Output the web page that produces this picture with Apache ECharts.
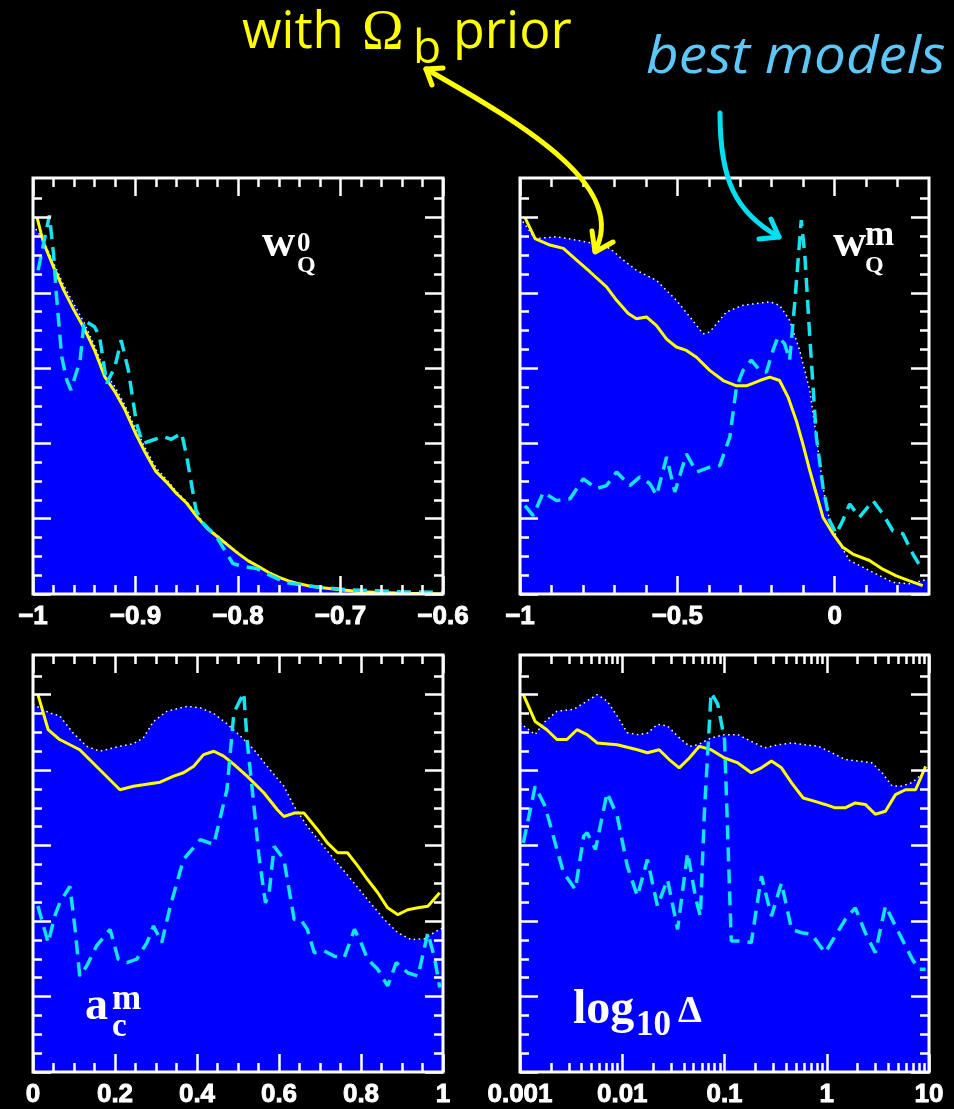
<!DOCTYPE html>
<html><head><meta charset="utf-8">
<script src="https://cdn.jsdelivr.net/npm/echarts@6/dist/echarts.min.js"></script>
<style>html,body{margin:0;padding:0;background:#000;}#c{width:954px;height:1109px;}</style>
</head><body><div id="c"></div>
<script>
// ---------------- data (normalised probability, y) ----------------
// Panel 1: w_Q^0
const tlBand = [[-1.0,0.98],[-0.99,0.94],[-0.98,0.88],[-0.97,0.82],[-0.96,0.77],[-0.95,0.72],[-0.94,0.66],[-0.93,0.59],[-0.92,0.55],[-0.91,0.50],[-0.90,0.44],[-0.89,0.385],[-0.88,0.335],[-0.87,0.305],[-0.86,0.272],[-0.85,0.245],[-0.84,0.21],[-0.83,0.178],[-0.82,0.155],[-0.81,0.132],[-0.80,0.11],[-0.79,0.09],[-0.78,0.074],[-0.77,0.058],[-0.76,0.045],[-0.75,0.035],[-0.74,0.027],[-0.73,0.021],[-0.72,0.017],[-0.70,0.011],[-0.68,0.007],[-0.66,0.004],[-0.64,0.002],[-0.62,0.001],[-0.60,0.0]];
const tlPrior = [[-0.996,1.0],[-0.99,0.935],[-0.98,0.869],[-0.97,0.807],[-0.96,0.754],[-0.95,0.705],[-0.94,0.648],[-0.93,0.577],[-0.92,0.537],[-0.91,0.488],[-0.90,0.427],[-0.89,0.373],[-0.88,0.325],[-0.87,0.298],[-0.86,0.267],[-0.85,0.241],[-0.84,0.205],[-0.83,0.174],[-0.82,0.152],[-0.81,0.130],[-0.80,0.108],[-0.79,0.088],[-0.78,0.073],[-0.77,0.057],[-0.76,0.044],[-0.75,0.034],[-0.74,0.027],[-0.73,0.021],[-0.72,0.017],[-0.70,0.011],[-0.68,0.006],[-0.66,0.004],[-0.64,0.002],[-0.62,0.001],[-0.60,0.0]];
const tlBest = [[-0.995,0.86],[-0.987,0.966],[-0.984,1.006],[-0.980,0.904],[-0.977,0.789],[-0.972,0.63],[-0.967,0.568],[-0.963,0.542],[-0.954,0.621],[-0.950,0.727],[-0.940,0.71],[-0.935,0.683],[-0.928,0.559],[-0.920,0.604],[-0.914,0.674],[-0.907,0.595],[-0.899,0.453],[-0.893,0.40],[-0.883,0.409],[-0.873,0.418],[-0.865,0.411],[-0.855,0.427],[-0.850,0.365],[-0.841,0.223],[-0.834,0.188],[-0.821,0.152],[-0.805,0.081],[-0.795,0.073],[-0.782,0.068],[-0.769,0.05],[-0.753,0.03],[-0.724,0.019],[-0.691,0.011],[-0.642,0.006],[-0.60,0.004]];
// Panel 2: w_Q^m
const trBand = [[-1.0,1.0],[-0.952,0.944],[-0.884,0.949],[-0.820,0.94],[-0.778,0.933],[-0.714,0.918],[-0.672,0.887],[-0.630,0.86],[-0.566,0.833],[-0.503,0.78],[-0.460,0.736],[-0.418,0.691],[-0.397,0.696],[-0.344,0.749],[-0.291,0.767],[-0.206,0.776],[-0.175,0.767],[-0.143,0.727],[-0.111,0.647],[-0.079,0.541],[-0.058,0.417],[-0.037,0.284],[-0.016,0.195],[0.016,0.133],[0.048,0.089],[0.111,0.062],[0.185,0.031],[0.238,0.027],[0.30,0.04]];
const trPrior = [[-0.984,1.0],[-0.952,0.944],[-0.905,0.927],[-0.862,0.918],[-0.820,0.887],[-0.778,0.856],[-0.725,0.816],[-0.693,0.78],[-0.656,0.745],[-0.630,0.731],[-0.598,0.736],[-0.566,0.713],[-0.534,0.677],[-0.503,0.656],[-0.471,0.647],[-0.439,0.629],[-0.397,0.594],[-0.354,0.567],[-0.312,0.553],[-0.280,0.553],[-0.238,0.567],[-0.206,0.576],[-0.175,0.567],[-0.148,0.523],[-0.122,0.461],[-0.101,0.399],[-0.079,0.328],[-0.058,0.266],[-0.037,0.204],[-0.005,0.16],[0.026,0.124],[0.058,0.106],[0.111,0.089],[0.153,0.066],[0.196,0.048],[0.238,0.035],[0.28,0.022]];
const trBest = [[-0.984,0.235],[-0.958,0.208],[-0.926,0.27],[-0.884,0.248],[-0.841,0.253],[-0.799,0.306],[-0.757,0.28],[-0.725,0.288],[-0.693,0.324],[-0.651,0.288],[-0.619,0.311],[-0.587,0.293],[-0.566,0.262],[-0.534,0.364],[-0.508,0.271],[-0.471,0.372],[-0.439,0.324],[-0.397,0.337],[-0.365,0.341],[-0.333,0.417],[-0.312,0.55],[-0.291,0.594],[-0.265,0.621],[-0.238,0.594],[-0.217,0.589],[-0.196,0.647],[-0.180,0.683],[-0.159,0.665],[-0.143,0.621],[-0.127,0.771],[-0.106,0.993],[-0.095,0.904],[-0.079,0.683],[-0.058,0.417],[-0.037,0.284],[-0.016,0.195],[0.005,0.16],[0.026,0.195],[0.048,0.239],[0.079,0.204],[0.122,0.248],[0.153,0.213],[0.185,0.168],[0.217,0.16],[0.249,0.106],[0.28,0.062]];
// Panel 3: a_c^m
const blBand = [[0.0,0.974],[0.041,0.951],[0.065,0.944],[0.098,0.898],[0.131,0.863],[0.163,0.85],[0.204,0.861],[0.245,0.87],[0.269,0.885],[0.294,0.929],[0.327,0.956],[0.376,0.969],[0.408,0.965],[0.441,0.95],[0.473,0.923],[0.506,0.89],[0.539,0.854],[0.571,0.81],[0.612,0.757],[0.637,0.704],[0.669,0.651],[0.702,0.607],[0.735,0.563],[0.776,0.51],[0.816,0.457],[0.857,0.404],[0.890,0.369],[0.922,0.351],[0.955,0.353],[0.980,0.371],[1.0,0.382]];
const blPrior = [[0.012,1.0],[0.037,0.907],[0.065,0.881],[0.114,0.854],[0.163,0.801],[0.212,0.748],[0.245,0.757],[0.269,0.761],[0.310,0.768],[0.343,0.784],[0.367,0.793],[0.392,0.81],[0.416,0.841],[0.441,0.85],[0.465,0.837],[0.490,0.815],[0.522,0.784],[0.563,0.74],[0.596,0.695],[0.612,0.677],[0.637,0.686],[0.661,0.686],[0.694,0.642],[0.718,0.607],[0.743,0.581],[0.767,0.581],[0.792,0.546],[0.816,0.51],[0.841,0.475],[0.865,0.435],[0.890,0.417],[0.914,0.43],[0.939,0.435],[0.963,0.439],[0.992,0.475]];
const blBest = [[0.012,0.44],[0.037,0.342],[0.053,0.413],[0.065,0.448],[0.090,0.492],[0.102,0.385],[0.114,0.254],[0.131,0.281],[0.155,0.334],[0.188,0.378],[0.208,0.299],[0.229,0.29],[0.253,0.299],[0.278,0.343],[0.294,0.387],[0.314,0.343],[0.335,0.44],[0.367,0.563],[0.408,0.616],[0.441,0.603],[0.473,0.748],[0.490,0.952],[0.514,1.005],[0.522,0.881],[0.539,0.704],[0.551,0.573],[0.567,0.448],[0.576,0.475],[0.588,0.598],[0.612,0.563],[0.637,0.404],[0.653,0.404],[0.669,0.378],[0.686,0.316],[0.710,0.321],[0.735,0.307],[0.759,0.303],[0.784,0.378],[0.800,0.343],[0.816,0.299],[0.841,0.272],[0.865,0.228],[0.886,0.29],[0.914,0.263],[0.939,0.254],[0.963,0.369],[0.980,0.299],[0.992,0.224]];
// Panel 4: log10(Delta)  (x stored as log10 of Delta)
const brBand = [[-3.0,0.925],[-2.852,0.894],[-2.770,0.925],[-2.639,0.956],[-2.475,0.961],[-2.344,0.983],[-2.246,1.0],[-2.148,0.983],[-2.049,0.943],[-1.951,0.899],[-1.852,0.894],[-1.754,0.898],[-1.656,0.921],[-1.557,0.917],[-1.459,0.89],[-1.344,0.863],[-1.262,0.867],[-1.131,0.885],[-1.0,0.894],[-0.869,0.894],[-0.738,0.876],[-0.607,0.859],[-0.475,0.867],[-0.344,0.872],[-0.213,0.867],[-0.082,0.863],[0.049,0.846],[0.180,0.828],[0.311,0.824],[0.443,0.819],[0.541,0.793],[0.639,0.758],[0.738,0.758],[0.836,0.767],[0.967,0.798],[1.0,0.798]];
const brPrior = [[-2.967,1.0],[-2.852,0.929],[-2.738,0.907],[-2.639,0.881],[-2.541,0.881],[-2.443,0.907],[-2.344,0.894],[-2.246,0.872],[-2.049,0.867],[-1.852,0.854],[-1.754,0.846],[-1.639,0.854],[-1.541,0.828],[-1.443,0.806],[-1.344,0.832],[-1.246,0.863],[-1.131,0.854],[-1.0,0.832],[-0.869,0.819],[-0.738,0.793],[-0.639,0.806],[-0.541,0.824],[-0.443,0.806],[-0.344,0.766],[-0.230,0.726],[-0.115,0.717],[-0.016,0.709],[0.082,0.70],[0.180,0.70],[0.279,0.713],[0.377,0.709],[0.475,0.683],[0.574,0.691],[0.672,0.735],[0.770,0.748],[0.869,0.748],[0.967,0.81]];
const brBest = [[-2.967,0.607],[-2.852,0.757],[-2.754,0.704],[-2.639,0.59],[-2.574,0.528],[-2.459,0.484],[-2.377,0.625],[-2.344,0.634],[-2.262,0.59],[-2.148,0.74],[-2.049,0.678],[-1.951,0.546],[-1.852,0.466],[-1.754,0.563],[-1.656,0.44],[-1.557,0.51],[-1.459,0.378],[-1.361,0.581],[-1.279,0.457],[-1.236,0.413],[-1.197,0.687],[-1.131,1.005],[-1.066,0.975],[-1.0,0.881],[-0.967,0.616],[-0.934,0.347],[-0.836,0.347],[-0.738,0.343],[-0.639,0.519],[-0.541,0.413],[-0.443,0.501],[-0.344,0.378],[-0.246,0.369],[-0.148,0.365],[-0.016,0.316],[0.082,0.36],[0.180,0.404],[0.279,0.435],[0.377,0.369],[0.475,0.316],[0.574,0.44],[0.705,0.369],[0.836,0.299],[0.902,0.272],[0.967,0.272]];

// ---------------- ticks / labels ----------------
const yMajor = [0, 0.2, 0.4, 0.6, 0.8, 1.0];
const yMinor = [0.05,0.1,0.15,0.25,0.3,0.35,0.45,0.5,0.55,0.65,0.7,0.75,0.85,0.9,0.95,1.05];
const tlXMajor = [-1, -0.9, -0.8, -0.7, -0.6];
const tlXLabels = ['\u22121', '\u22120.9', '\u22120.8', '\u22120.7', '\u22120.6'];
const tlXMinor = [-0.98,-0.96,-0.94,-0.92,-0.88,-0.86,-0.84,-0.82,-0.78,-0.76,-0.74,-0.72,-0.68,-0.66,-0.64,-0.62];
const trXMajor = [-1, -0.5, 0];
const trXLabels = ['\u22121', '\u22120.5', '0'];
const trXMinor = [-0.9,-0.8,-0.7,-0.6,-0.4,-0.3,-0.2,-0.1,0.1,0.2];
const blXMajor = [0, 0.2, 0.4, 0.6, 0.8, 1];
const blXLabels = ['0', '0.2', '0.4', '0.6', '0.8', '1'];
const blXMinor = [0.05,0.1,0.15,0.25,0.3,0.35,0.45,0.5,0.55,0.65,0.7,0.75,0.85,0.9,0.95];
const brXMajor = [-3, -2, -1, 0, 1];
const brXLabels = ['0.001', '0.01', '0.1', '1', '10'];
const brDecades = [0.001, 0.01, 0.1, 1];
const brMantissas = [2,3,4,5,6,7,8,9];
const brXMinor = brDecades.flatMap(d => brMantissas.map(k => Math.log10(k * d)));

const Y_MAX = 1.105;
const grids = [
  {left: 33, top: 178, width: 410, height: 416},
  {left: 520, top: 178, width: 409, height: 416},
  {left: 33, top: 655, width: 410, height: 417},
  {left: 520, top: 655, width: 409, height: 417}
];
const panels = [
  {min: -1, max: -0.6, major: tlXMajor, minor: tlXMinor, labels: tlXLabels, band: tlBand, prior: tlPrior, best: tlBest},
  {min: -1, max: 0.3, major: trXMajor, minor: trXMinor, labels: trXLabels, band: trBand, prior: trPrior, best: trBest},
  {min: 0, max: 1, major: blXMajor, minor: blXMinor, labels: blXLabels, band: blBand, prior: blPrior, best: blBest},
  {min: -3, max: 1, major: brXMajor, minor: brXMinor, labels: brXLabels, band: brBand, prior: brPrior, best: brBest}
];

const fmt = (ticks, labels) => v => {
  const i = ticks.findIndex(t => Math.abs(t - v) < 1e-9);
  return i >= 0 ? labels[i] : '';
};
const tick = (vals, len) => ({show: true, inside: true, length: len, customValues: vals,
  lineStyle: {color: '#fff', width: 2.5}});

const xAxis = [], yAxis = [], series = [];
panels.forEach((p, g) => {
  const bx = {gridIndex: g, type: 'value', min: p.min, max: p.max, z: 6,
    axisLine: {show: false, onZero: false}, splitLine: {show: false}};
  xAxis.push(
    Object.assign({}, bx, {position: 'bottom', axisTick: tick(p.major, 18),
      axisLabel: {show: true, customValues: p.major, formatter: fmt(p.major, p.labels),
        color: '#fff', fontFamily: 'Liberation Sans', fontWeight: 'bold', fontSize: 26, margin: 10,
        textBorderColor: '#fff', textBorderWidth: 0.9}}),
    Object.assign({}, bx, {position: 'top', axisTick: tick(p.major, 18), axisLabel: {show: false}}),
    Object.assign({}, bx, {position: 'bottom', axisTick: tick(p.minor, 9), axisLabel: {show: false}}),
    Object.assign({}, bx, {position: 'top', axisTick: tick(p.minor, 9), axisLabel: {show: false}})
  );
  const by = {gridIndex: g, type: 'value', min: 0, max: Y_MAX, z: 6,
    axisLine: {show: false, onZero: false}, splitLine: {show: false}, axisLabel: {show: false}};
  yAxis.push(
    Object.assign({}, by, {position: 'left', axisTick: tick(yMajor, 18)}),
    Object.assign({}, by, {position: 'right', axisTick: tick(yMajor, 18)}),
    Object.assign({}, by, {position: 'left', axisTick: tick(yMinor, 9)}),
    Object.assign({}, by, {position: 'right', axisTick: tick(yMinor, 9)})
  );
  const ax = {xAxisIndex: g * 4, yAxisIndex: g * 4, type: 'line', symbol: 'none', silent: true};
  series.push(
    Object.assign({}, ax, {name: 'all models', data: p.band, z: 2,
      lineStyle: {color: '#ffffff', width: 1.5, type: [1.5, 3.5]},
      areaStyle: {color: '#0000ff', opacity: 1}}),
    Object.assign({}, ax, {name: 'with prior', data: p.prior, z: 3,
      lineStyle: {color: '#ffff00', width: 3}}),
    Object.assign({}, ax, {name: 'best models', data: p.best, z: 4,
      lineStyle: {color: '#12e4f2', width: 3.5, type: [14, 8]}})
  );
});

// ---------------- annotations ----------------
const txt = (text, x, y, font, fill, sx) => ({type: 'text', x: x, y: y, z: 20, scaleX: sx || 1,
  style: {text: text, font: font, fill: fill, align: 'left', verticalAlign: 'middle'}});
const SERIF = '"Liberation Serif"';
const OPEN = '"Open Sans"';
const graphics = [
  txt('with', 242, 33, '51px ' + OPEN, '#ffff00'),
  txt('\u03A9', 362, 34, '56px ' + SERIF, '#ffff00'),
  txt('b', 413, 50, '46px ' + OPEN, '#ffff00'),
  txt('prior', 453, 33, '51px ' + OPEN, '#ffff00', 1.02),
  txt('best models', 646, 58, 'italic 51px ' + OPEN, '#5cc8fa', 1.11),
  // panel labels
  txt('w', 262, 244.5, 'bold 46px ' + SERIF, '#fff'),
  txt('0', 297, 244, 'bold 27px ' + SERIF, '#fff'),
  txt('Q', 297, 266, 'bold 24px ' + SERIF, '#fff'),
  txt('w', 833, 244.5, 'bold 46px ' + SERIF, '#fff'),
  txt('m', 865, 236, 'bold 35px ' + SERIF, '#fff'),
  txt('Q', 865, 266, 'bold 24px ' + SERIF, '#fff'),
  txt('a', 85, 1007.5, 'bold 46px ' + SERIF, '#fff'),
  txt('m', 112, 1000, 'bold 35px ' + SERIF, '#fff'),
  txt('c', 112, 1027, 'bold 33px ' + SERIF, '#fff'),
  txt('log', 573, 1011, 'bold 48px ' + SERIF, '#fff'),
  txt('10', 636, 1026, 'bold 35px ' + SERIF, '#fff'),
  txt('\u0394', 678, 1012, 'bold 38px ' + SERIF, '#fff'),
  // arrows
  {type: 'bezierCurve', z: 20, shape: {x1: 426, y1: 69, cpx1: 530, cpy1: 128, cpx2: 628, cpy2: 188, x2: 595, y2: 251},
    style: {stroke: '#ffff00', lineWidth: 5, fill: null, lineCap: 'round'}},
  {type: 'polyline', z: 20, shape: {points: [[432, 85], [426, 69], [443, 68]]},
    style: {stroke: '#ffff00', lineWidth: 5, fill: null, lineCap: 'round', lineJoin: 'round'}},
  {type: 'polyline', z: 20, shape: {points: [[592, 231], [595, 252], [613, 242]]},
    style: {stroke: '#ffff00', lineWidth: 5, fill: null, lineCap: 'round', lineJoin: 'round'}},
  {type: 'bezierCurve', z: 20, shape: {x1: 720, y1: 113, cpx1: 720, cpy1: 180, cpx2: 735, cpy2: 212, x2: 779, y2: 237},
    style: {stroke: '#00e0f2', lineWidth: 5, fill: null, lineCap: 'round'}},
  {type: 'polyline', z: 20, shape: {points: [[771, 219], [779, 237], [759, 239]]},
    style: {stroke: '#00e0f2', lineWidth: 5, fill: null, lineCap: 'round', lineJoin: 'round'}}
];

const chart = echarts.init(document.getElementById('c'), null, {renderer: 'canvas'});
chart.setOption({
  backgroundColor: '#000',
  animation: false,
  grid: grids.map(g => Object.assign({show: true, z: 8, borderColor: '#fff', borderWidth: 3,
    backgroundColor: 'transparent', containLabel: false}, g)),
  xAxis: xAxis,
  yAxis: yAxis,
  series: series,
  graphic: {elements: graphics}
});
</script></body></html>
